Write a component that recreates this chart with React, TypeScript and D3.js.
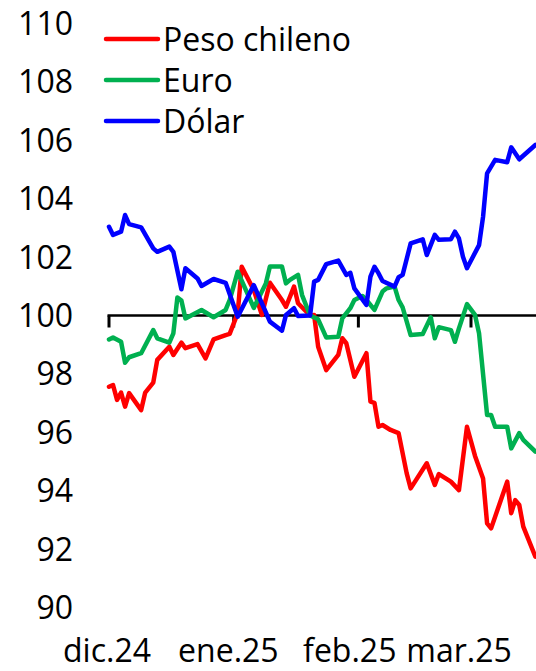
import React from "react";
import * as d3 from "d3";

const SERIES_NAMES = ["Peso chileno", "Euro", "Dólar"];
const SERIES_COLORS = ["#FF0000", "#00B050", "#0000FF"];

const PESO_DATES = [
  "2024-12-01","2024-12-02","2024-12-03","2024-12-04","2024-12-05","2024-12-06","2024-12-09","2024-12-10","2024-12-12","2024-12-13",
  "2024-12-16","2024-12-17","2024-12-19","2024-12-20","2024-12-23","2024-12-25","2024-12-27","2024-12-30","2024-12-31","2025-01-02",
  "2025-01-03","2025-01-06","2025-01-08","2025-01-10","2025-01-13","2025-01-14","2025-01-16","2025-01-17","2025-01-20","2025-01-21",
  "2025-01-22","2025-01-24","2025-01-27","2025-01-28","2025-01-29","2025-01-31","2025-02-03","2025-02-04","2025-02-05","2025-02-06",
  "2025-02-07","2025-02-09","2025-02-11","2025-02-13","2025-02-14","2025-02-18","2025-02-20","2025-02-21","2025-02-24","2025-02-26",
  "2025-02-28","2025-03-02","2025-03-04","2025-03-05","2025-03-06","2025-03-10","2025-03-11","2025-03-12","2025-03-13","2025-03-14",
  "2025-03-17"
];
const PESO_VALUES = [
  97.56,97.62,97.11,97.36,96.88,97.34,96.76,97.36,97.70,98.48,
  98.93,98.65,99.07,98.88,99.02,98.53,99.18,99.33,99.37,100.08,
  101.67,100.87,100.02,101.12,100.53,100.30,100.99,100.42,100.00,100.02,
  98.93,98.13,98.65,99.22,99.05,97.90,98.71,97.05,97.01,96.19,
  96.25,96.08,95.97,94.60,94.08,94.94,94.20,94.57,94.31,94.02,
  96.19,95.19,94.42,92.88,92.71,94.31,93.23,93.68,93.51,92.77,
  91.74
];

const EURO_DATES = [
  "2024-12-01","2024-12-02","2024-12-04","2024-12-05","2024-12-06","2024-12-09","2024-12-12","2024-12-13","2024-12-16","2024-12-17",
  "2024-12-18","2024-12-19","2024-12-20","2024-12-24","2024-12-27","2024-12-30","2024-12-31","2025-01-02","2025-01-06","2025-01-09",
  "2025-01-10","2025-01-13","2025-01-14","2025-01-15","2025-01-17","2025-01-18","2025-01-20","2025-01-22","2025-01-24","2025-01-27",
  "2025-01-28","2025-01-30","2025-01-31","2025-02-02","2025-02-03","2025-02-05","2025-02-07","2025-02-08","2025-02-10","2025-02-11",
  "2025-02-12","2025-02-14","2025-02-17","2025-02-19","2025-02-20","2025-02-21","2025-02-24","2025-02-25","2025-02-26","2025-02-28",
  "2025-03-02","2025-03-03","2025-03-05","2025-03-06","2025-03-07","2025-03-10","2025-03-11","2025-03-13","2025-03-14","2025-03-17"
];
const EURO_VALUES = [
  99.18,99.25,99.10,98.38,98.57,98.71,99.50,99.22,99.07,99.39,
  100.62,100.51,99.90,100.19,99.94,100.19,100.53,101.50,100.26,101.10,
  101.68,101.68,101.10,101.22,101.39,100.70,100.00,99.87,99.25,99.27,
  99.90,100.25,100.53,100.67,100.53,100.19,100.82,100.93,100.99,100.53,
  100.28,99.33,99.37,99.94,99.22,99.60,99.50,99.10,99.56,100.39,
  100.02,99.39,96.59,96.59,96.19,96.19,95.45,95.97,95.74,95.34
];

const DOLAR_DATES = [
  "2024-12-01","2024-12-02","2024-12-04","2024-12-05","2024-12-06","2024-12-09","2024-12-12","2024-12-13","2024-12-16","2024-12-17",
  "2024-12-19","2024-12-20","2024-12-23","2024-12-24","2024-12-27","2024-12-30","2025-01-02","2025-01-06","2025-01-08","2025-01-10",
  "2025-01-13","2025-01-14","2025-01-16","2025-01-17","2025-01-20","2025-01-21","2025-01-22","2025-01-24","2025-01-27","2025-01-29",
  "2025-01-30","2025-01-31","2025-02-03","2025-02-04","2025-02-05","2025-02-06","2025-02-07","2025-02-10","2025-02-11","2025-02-12",
  "2025-02-14","2025-02-17","2025-02-18","2025-02-20","2025-02-21","2025-02-24","2025-02-25","2025-02-26","2025-02-27","2025-02-28",
  "2025-03-03","2025-03-04","2025-03-05","2025-03-07","2025-03-10","2025-03-11","2025-03-13","2025-03-17"
];
const DOLAR_VALUES = [
  103.04,102.76,102.87,103.44,103.13,103.02,102.30,102.18,102.36,102.18,
  100.90,101.62,101.27,101.01,101.25,101.12,99.96,101.04,100.42,99.79,
  99.48,100.02,100.25,99.98,100.00,101.16,101.22,101.76,101.88,101.39,
  101.46,100.93,100.36,101.33,101.67,101.45,101.18,100.99,101.31,101.39,
  102.47,102.61,102.07,102.76,102.59,102.61,102.87,102.64,102.01,101.62,
  102.41,103.38,104.87,105.33,105.25,105.76,105.35,105.84
];

const Y_TICKS = [90, 92, 94, 96, 98, 100, 102, 104, 106, 108, 110];
const MONTH_STARTS = ["2024-12-01", "2025-01-01", "2025-02-01", "2025-03-01"];
const MONTH_LABELS = ["dic.24", "ene.25", "feb.25", "mar.25"];

const W = 536;
const H = 671;
const FONT = "'Open Sans', sans-serif";
const FS = 32;

const parse = d3.utcParse("%Y-%m-%d");

export default function App() {
  const x = d3
    .scaleUtc()
    .domain([parse(MONTH_STARTS[0])!, parse(MONTH_STARTS[3])!])
    .range([109, 471]);
  const y = d3.scaleLinear().domain([90, 110]).range([607.5, 23.5]);

  const series = [
    { dates: PESO_DATES, values: PESO_VALUES },
    { dates: EURO_DATES, values: EURO_VALUES },
    { dates: DOLAR_DATES, values: DOLAR_VALUES },
  ].map((s, i) => ({
    name: SERIES_NAMES[i],
    color: SERIES_COLORS[i],
    points: s.dates.map((d, j) => ({ date: parse(d)!, value: s.values[j] })),
  }));

  const line = d3
    .line<{ date: Date; value: number }>()
    .x((d) => x(d.date))
    .y((d) => y(d.value));

  const y100 = y(100);
  const x0 = x(parse(MONTH_STARTS[0])!);

  return (
    <svg
      width={W}
      height={H}
      style={{ position: "absolute", left: 0, top: 0, background: "#fff" }}
      fontFamily={FONT}
    >
      {/* y tick labels */}
      {Y_TICKS.map((t) => (
        <text key={t} x={73} y={y(t)} dy="0.36em" textAnchor="end" fontSize={FS} fill="#000">
          {t}
        </text>
      ))}
      {/* x axis */}
      <line x1={x0 - 1.5} x2={W} y1={y100} y2={y100} stroke="#000" strokeWidth={2.5} />
      {MONTH_STARTS.map((m) => (
        <line key={m} x1={x(parse(m)!)} x2={x(parse(m)!)} y1={y100} y2={y100 + 12} stroke="#000" strokeWidth={3} />
      ))}
      {MONTH_STARTS.map((m, i) => (
        <text
          key={m}
          x={x(parse(m)!) - 2 - 3.3 * i}
          y={662}
          textAnchor="middle"
          fontSize={FS}
          fill="#000"
        >
          {MONTH_LABELS[i]}
        </text>
      ))}
      {/* series */}
      {series.map((s) => (
        <path
          key={s.name}
          d={line(s.points) || ""}
          fill="none"
          stroke={s.color}
          strokeWidth={4.5}
          strokeLinejoin="round"
          strokeLinecap="round"
        />
      ))}
      {/* legend */}
      {series.map((s, i) => (
        <g key={s.name} transform={`translate(0, ${39 + i * 41})`}>
          <line x1={106} x2={158} y1={0} y2={0} stroke={s.color} strokeWidth={4.5} strokeLinecap="round" />
          <text x={163} y={0} dy="0.36em" fontSize={FS} fill="#000">
            {s.name}
          </text>
        </g>
      ))}
    </svg>
  );
}
